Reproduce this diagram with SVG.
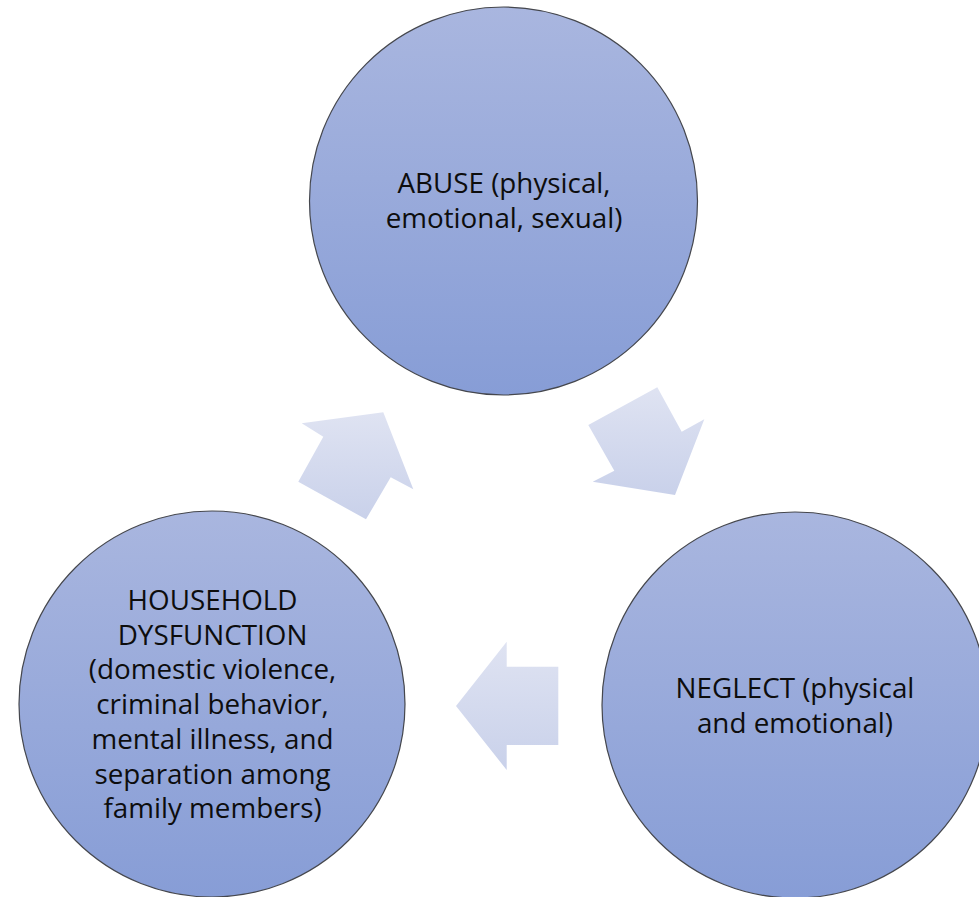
<svg xmlns="http://www.w3.org/2000/svg" width="979" height="897" viewBox="0 0 979 897">
  <defs>
    <linearGradient id="circleFill" x1="0" y1="0" x2="0" y2="1">
      <stop offset="0" stop-color="#a9b6df"/>
      <stop offset="1" stop-color="#879dd6"/>
    </linearGradient>
    <linearGradient id="arrowFill" x1="0" y1="0" x2="0" y2="1">
      <stop offset="0" stop-color="#dfe3f2"/>
      <stop offset="1" stop-color="#c9d1ea"/>
    </linearGradient>
  </defs>
  <style>
    .node circle { fill: url(#circleFill); stroke: #45474d; stroke-width: 1.2; }
    .node text { font-family: "Open Sans", "Liberation Sans", sans-serif; font-size: 27.8px; fill: #0d0d0d; text-anchor: middle; }
    .arrow { fill: url(#arrowFill); stroke: none; }
  </style>

  <!-- cycle arrows between the three categories -->
  <g id="connectors">
    <polygon class="arrow" points="588.3,425 657.3,387.3 681.7,431.7 704.3,419.3 675,495 592.7,481.7 614.3,470.7"/>
    <polygon class="arrow" points="456,706 506.7,641.7 506.7,666.7 558.3,666.7 558.3,745 506.7,745 506.7,770"/>
    <polygon class="arrow" points="366,519.3 298.3,481.7 323.3,436.7 301.7,423.3 383.3,412.3 413.3,489.3 390.7,477.3"/>
  </g>

  <g id="abuse" class="node">
    <circle cx="503.5" cy="201" r="194"/>
    <text x="504" y="193">ABUSE (physical,</text>
    <text x="504" y="228">emotional, sexual)</text>
  </g>

  <g id="neglect" class="node">
    <circle cx="795" cy="705" r="193"/>
    <text x="795" y="698">NEGLECT (physical</text>
    <text x="795" y="733">and emotional)</text>
  </g>

  <g id="household-dysfunction" class="node">
    <circle cx="212" cy="704" r="193"/>
    <text x="212.5" y="610">HOUSEHOLD</text>
    <text x="212.5" y="644.7">DYSFUNCTION</text>
    <text x="212.5" y="679.4">(domestic violence,</text>
    <text x="212.5" y="714.1">criminal behavior,</text>
    <text x="212.5" y="748.8">mental illness, and</text>
    <text x="212.5" y="783.5">separation among</text>
    <text x="212.5" y="818.2">family members)</text>
  </g>
</svg>
